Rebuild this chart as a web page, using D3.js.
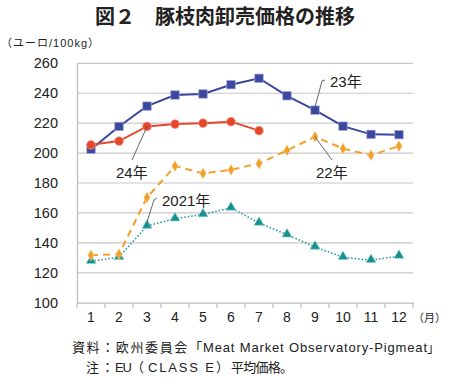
<!DOCTYPE html>
<html><head><meta charset="utf-8">
<script src="https://cdn.jsdelivr.net/npm/d3@7"></script>
<style>body{margin:0;background:#fff}svg{display:block}</style>
</head><body><svg id="c" width="450" height="378"></svg>
<script>
const months = ["1","2","3","4","5","6","7","8","9","10","11","12"];
const yTicks = [100,120,140,160,180,200,220,240,260];
const s2021 = [127.7,130.5,151.3,156.2,159,163.4,153.3,145.5,137.3,130.4,128.4,131.2];
const s2022 = [131.7,132.4,170.3,191.3,186.4,188.8,193,201.8,210.9,203,198.6,204.7];
const s2023 = [202.6,217.8,231.4,238.8,239.5,245.7,250,238.3,228.7,218,212.5,212.3];
const s2024 = [205.5,208,217.8,219.4,220,221,215];
const seriesNames = ["2021年","22年","23年","24年"];

const svg = d3.select("#c");
const font = "'Noto Sans CJK JP','Noto Sans',sans-serif";
const mixFont = "'Liberation Sans','Noto Sans CJK JP',sans-serif";
const numFont = "'Liberation Sans',Arial,sans-serif";
const x = d3.scaleBand().domain(months).range([77,413]);
const y = d3.scaleLinear().domain([100,260]).range([302.7,63.3]);
const cx = m => x(m) + x.bandwidth()/2;

// title
svg.append("text").attr("x",225).attr("y",24).attr("text-anchor","middle")
  .attr("font-family",font).attr("font-size",20).attr("font-weight","bold").attr("fill","#222")
  .text("図２　豚枝肉卸売価格の推移");
svg.append("text").attr("x",1).attr("y",47).attr("font-family",mixFont).attr("font-size",11).attr("fill","#222")
  .attr("textLength",98).attr("lengthAdjust","spacing")
  .text("（ユーロ/100kg）");

// grid
svg.append("g").selectAll("line").data(yTicks.filter(d=>d>100)).join("line")
  .attr("x1",77).attr("x2",413).attr("y1",d=>y(d)).attr("y2",d=>y(d))
  .attr("stroke","#c8c8c8").attr("stroke-width",1.2);

// y axis
const ya = svg.append("g").attr("transform","translate(77,0)")
  .call(d3.axisLeft(y).tickValues(yTicks).tickSize(0).tickPadding(19));
ya.select(".domain").attr("stroke","#bbb").attr("stroke-width",1.2);
ya.selectAll("text").attr("font-family",numFont).attr("font-size",14.5).attr("fill","#222");

// x axis
const xa = svg.append("g").attr("transform","translate(0,302.7)")
  .call(d3.axisBottom(x).tickSize(0).tickPadding(9));
xa.select(".domain").attr("stroke","#bbb").attr("stroke-width",1.2);
xa.selectAll("text").attr("font-family",numFont).attr("font-size",14).attr("fill","#222");
svg.append("g").selectAll("line").data(months.concat(["end"])).join("line")
  .attr("x1",(d,i)=>77+i*x.bandwidth()).attr("x2",(d,i)=>77+i*x.bandwidth())
  .attr("y1",302.7).attr("y2",308).attr("stroke","#bbb").attr("stroke-width",1.2);
svg.append("text").attr("x",413).attr("y",322).attr("font-family",font).attr("font-size",11).attr("fill","#222").text("（月）");

const line = d3.line().x((d,i)=>cx(months[i])).y(d=>y(d));

// 2021 teal dotted
svg.append("path").datum(s2021).attr("d",line).attr("fill","none")
  .attr("stroke","#1f9a9a").attr("stroke-width",1.6).attr("stroke-dasharray","1.5,2");
svg.append("g").selectAll("path").data(s2021).join("path")
  .attr("d",d3.symbol(d3.symbolTriangle,42)())
  .attr("transform",(d,i)=>`translate(${cx(months[i])},${y(d)-0.5})`)
  .attr("fill","#178f8f").attr("stroke","#8fd0d0").attr("stroke-width",0.6);

// 2022 orange dashed
svg.append("path").datum(s2022).attr("d",line).attr("fill","none")
  .attr("stroke","#f2a22c").attr("stroke-width",2).attr("stroke-dasharray","7,5");
svg.append("g").selectAll("path").data(s2022).join("path")
  .attr("d",d3.symbol(d3.symbolDiamond,34)())
  .attr("transform",(d,i)=>`translate(${cx(months[i])},${y(d)})`)
  .attr("fill","#f0a028").attr("stroke","#f8d090").attr("stroke-width",0.6);

// 2023 blue squares
svg.append("path").datum(s2023).attr("d",line).attr("fill","none")
  .attr("stroke","#3c479e").attr("stroke-width",2);
svg.append("g").selectAll("rect").data(s2023).join("rect")
  .attr("x",(d,i)=>cx(months[i])-4.2).attr("y",d=>y(d)-4.2).attr("width",8.4).attr("height",8.4)
  .attr("fill","#3c479e").attr("stroke","#9aa2d8").attr("stroke-width",0.7);

// 2024 red circles
svg.append("path").datum(s2024).attr("d",line).attr("fill","none")
  .attr("stroke","#e5472d").attr("stroke-width",2);
svg.append("g").selectAll("circle").data(s2024).join("circle")
  .attr("cx",(d,i)=>cx(months[i])).attr("cy",d=>y(d)).attr("r",4.4)
  .attr("fill","#e5472d").attr("stroke","#f3a090").attr("stroke-width",0.7);

// labels with leader lines
const lbl = (t,xx,yy)=>svg.append("text").attr("x",xx).attr("y",yy).attr("font-family",mixFont)
  .attr("font-size",15).attr("fill","#222").text(t);
const leader = pts => svg.append("path").attr("d",d3.line()(pts)).attr("fill","none")
  .attr("stroke","#555").attr("stroke-width",0.9);

lbl(seriesNames[2],330,87);
leader([[cx("9"),y(s2023[8])-3],[322,81],[325,80]]);
lbl(seriesNames[1],316,178);
leader([[cx("9"),y(s2022[8])],[332,160]]);
lbl(seriesNames[3],116,178);
leader([[132,160],[cx("3"),y(s2024[2])]]);
lbl(seriesNames[0],162,206);
leader([[cx("3"),y(s2021[2])-4],[154,200],[157,198]]);

// footnotes
const note = (yy, segs) => {
  const t = svg.append("text").attr("y",yy).attr("font-family",mixFont).attr("font-size",13).attr("fill","#222");
  segs.forEach(s => {
    const ts = t.append("tspan").attr("x",s[1]).text(s[0]);
    if (s[2]) ts.attr("textLength",s[2]).attr("lengthAdjust","spacing");
  });
};
note(352, [["資料：欧州委員会「",72,130],["Meat Market Observatory-Pigmeat",203,224],["」",427]]);
note(372, [["注：",86,28],["EU",115,17],["（",131],["CLASS E",148,66],["）",216],["平均価格。",231,62]]);
</script></body></html>
